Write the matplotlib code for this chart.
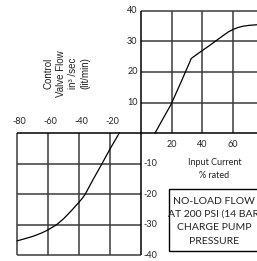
import matplotlib
matplotlib.use("Agg")
import matplotlib.pyplot as plt

# curve in the first quadrant (input current %, flow)
pos_x = [9.3, 14, 19.5, 26, 32.8, 38, 44, 50, 56.6, 60, 63, 66, 70, 75]
pos_y = [0, 4.3, 9.2, 16.5, 24.4, 26.3, 28.4, 30.6, 33.0, 33.9, 34.5, 34.9, 35.2, 35.4]

# curve in the third quadrant
neg_x = [-13.9, -20, -25.3, -31, -36.1, -38, -40, -45, -50, -54.4, -60, -64, -69.6, -75, -80]
neg_y = [0, -5.3, -10.2, -15.3, -20.1, -21.4, -22.6, -25.4, -28.0, -29.9, -31.6, -32.6,
         -33.7, -34.5, -35.2]

x_ticks_pos = [20, 40, 60, 80]
x_ticks_neg = [-80, -60, -40, -20]
y_ticks_pos = [10, 20, 30, 40]
y_ticks_neg = [-10, -20, -30, -40]

ylabel_lines = ["Control", "Valve Flow", "in\u00b3 /sec", "(lit/min)"]
box_lines = ["NO-LOAD FLOW", "AT 200 PSI (14 BAR)", "CHARGE PUMP", "PRESSURE"]

fig = plt.figure(figsize=(2.57, 2.61), dpi=100)
ax = fig.add_axes([0, 0, 1, 1])
ax.set_xlim(-91.2, 75.4)
ax.set_ylim(-41.8, 43.5)
ax.axis("off")

grid_kw = dict(color="#3a3a3a", linewidth=1.1)
edge_kw = dict(color="black", linewidth=1.1)

# upper right grid
for v in x_ticks_pos:
    ax.vlines(v, 0, 40, clip_on=False, **grid_kw)
for h in y_ticks_pos:
    ax.hlines(h, 0, 90, clip_on=False, **grid_kw)
# lower left grid
for v in x_ticks_neg:
    ax.vlines(v, -40, 0, **grid_kw)
for h in y_ticks_neg:
    ax.hlines(h, -80, 0, **grid_kw)
# axes through origin
ax.vlines(0, -40, 40, **edge_kw)
ax.hlines(0, -80, 90, clip_on=False, **edge_kw)

ax.plot(pos_x, pos_y, color="black", linewidth=0.9)
ax.plot(neg_x, neg_y, color="black", linewidth=0.9)

tick_font = dict(family="Lato", fontsize=6.5, color="#222222")
for t in x_ticks_pos:
    ax.text(t, -2.2, str(t), ha="center", va="top", clip_on=False, **tick_font)
for t in x_ticks_neg:
    ax.text(t + 1.5, 2.2, str(t), ha="center", va="bottom", **tick_font)
for t in y_ticks_pos:
    ax.text(-2.0, t, str(t), ha="right", va="center", **tick_font)
for t in y_ticks_neg:
    ax.text(2.0, t, str(t), ha="left", va="center", **tick_font)

for xpos, line in zip([-59.9, -51.7, -43.7, -36.1], ylabel_lines):
    ax.text(xpos, 19.5, line, rotation=90, ha="center", va="center",
            family="Liberation Sans", fontsize=7, color="#222222")

ax.text(47.8, -9.5, "Input Current", ha="center", va="center",
        family="Lato", fontsize=6.5, color="#222222")
ax.text(47.8, -13.9, "% rated", ha="center", va="center",
        family="Lato", fontsize=6.5, color="#222222")

ax.add_patch(plt.Rectangle((18.1, -38.5), 59.4, 20.2, fill=False,
                           edgecolor="black", linewidth=1.0, clip_on=False))
for i, line in enumerate(box_lines):
    ax.text(47.8, -22.2 - i * 4.4, line, ha="center", va="center",
            family="Lato", fontsize=7.5, color="#222222", clip_on=False)

fig.savefig("out.png", dpi=100)
